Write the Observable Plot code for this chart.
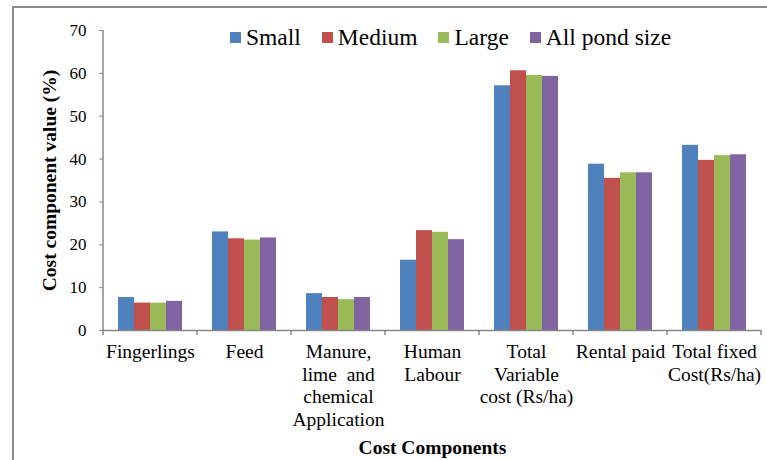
<!DOCTYPE html>
<html><head><meta charset="utf-8">
<script src="https://cdn.jsdelivr.net/npm/d3@7"></script>
<script src="https://cdn.jsdelivr.net/npm/@observablehq/plot@0.6"></script>
<style>
body{margin:0;background:#fff;}
#wrap{position:relative;width:767px;height:460px;overflow:hidden;}
#border{position:absolute;left:12px;top:6px;width:800px;height:500px;border:2px solid #8c8c8c;}
#chart{position:absolute;left:0;top:0;}
#legend{position:absolute;left:230px;top:24px;display:flex;font-family:"Liberation Serif","Times New Roman",Times,serif;font-size:23.5px;line-height:27px;color:#000;white-space:nowrap;}
.item{display:flex;align-items:center;margin-right:21px;}
.sw{width:11px;height:11px;margin-right:5px;}
</style></head><body>
<div id="wrap"><div id="border"></div><div id="chart"></div><div id="legend"></div></div>
<script>
const categories = ["Fingerlings", "Feed", "Manure,\nlime  and\nchemical\nApplication", "Human\nLabour", "Total\nVariable\ncost (Rs/ha)", "Rental paid", "Total fixed\nCost(Rs/ha)"];
const seriesNames = ["Small", "Medium", "Large", "All pond size"];
const small   = [7.7, 23.0, 8.6, 16.4, 57.1, 38.8, 43.2];
const medium  = [6.4, 21.4, 7.7, 23.3, 60.6, 35.5, 39.7];
const large   = [6.4, 21.1, 7.2, 22.9, 59.5, 36.8, 40.8];
const allPond = [6.8, 21.6, 7.7, 21.2, 59.3, 36.8, 41.0];
const colors = ["#4F81BD", "#C0504D", "#9BBB59", "#8064A2"];
const yTicks = [0, 10, 20, 30, 40, 50, 60, 70];

const seriesValues = [small, medium, large, allPond];
const data = categories.flatMap((c, i) => seriesNames.map((s, j) => ({category: c, series: s, value: seriesValues[j][i]})));

const serif = "\"Liberation Serif\", \"Times New Roman\", Times, serif";
const axisColor = "#868686";
const plot = Plot.plot({
  width: 767, height: 460,
  marginLeft: 101, marginRight: 5, marginTop: 30, marginBottom: 130,
  style: {fontFamily: serif, fontSize: "17px", color: "#000", background: "transparent", overflow: "visible"},
  fx: {domain: categories, padding: 0, label: null},
  x: {domain: seriesNames, paddingInner: 0, paddingOuter: 0.77, axis: null},
  y: {domain: [0, 70], label: null},
  color: {domain: seriesNames, range: colors},
  marks: [
    Plot.barY(data, {fx: "category", x: "series", y: "value", fill: "series", inset: 0}),
    Plot.ruleY([0], {stroke: axisColor, strokeWidth: 1.5}),
    Plot.axisY({ticks: yTicks, tickSize: 4, tickPadding: 13, stroke: axisColor, label: null, fontSize: 17, fontFamily: serif}),
    Plot.axisY({ticks: [], label: "Cost component value (%)", labelArrow: "none", labelAnchor: "center", labelOffset: 61, fontWeight: "bold", fontSize: 19.5, fontFamily: serif}),
    Plot.axisFx({anchor: "bottom", tickSize: 0, tickPadding: 12, lineHeight: 1.15, fontSize: 19.5, label: null, fontFamily: serif}),
    Plot.axisFx({anchor: "bottom", ticks: [], label: "Cost Components", labelArrow: "none", labelAnchor: "center", labelOffset: 123, fontWeight: "bold", fontSize: 19.5, fontFamily: serif})
  ]
});
document.getElementById("chart").appendChild(plot);

// y-axis line and category boundary ticks, placed with the plot's own scales
const svg = d3.select(plot.tagName.toLowerCase() === "svg" ? plot : plot.querySelector("svg"));
const fx = plot.scale("fx"), y = plot.scale("y");
const y0 = y.apply(0), yTop = y.apply(yTicks[yTicks.length - 1]);
const bw = fx.bandwidth;
const edges = categories.map(c => fx.apply(c)).concat([fx.apply(categories[categories.length - 1]) + bw]);
svg.append("line").attr("x1", edges[0]).attr("x2", edges[0]).attr("y1", yTop).attr("y2", y0 + 0.75)
  .attr("stroke", axisColor).attr("stroke-width", 1.5);
svg.append("g").selectAll("line").data(edges).join("line")
  .attr("x1", d => d).attr("x2", d => d).attr("y1", y0).attr("y2", y0 + 5)
  .attr("stroke", axisColor).attr("stroke-width", 1.5);

// legend
const legend = d3.select("#legend");
seriesNames.forEach((s, i) => {
  const it = legend.append("div").attr("class", "item");
  it.append("div").attr("class", "sw").style("background", colors[i]);
  it.append("span").text(s);
});
</script>
</body></html>
